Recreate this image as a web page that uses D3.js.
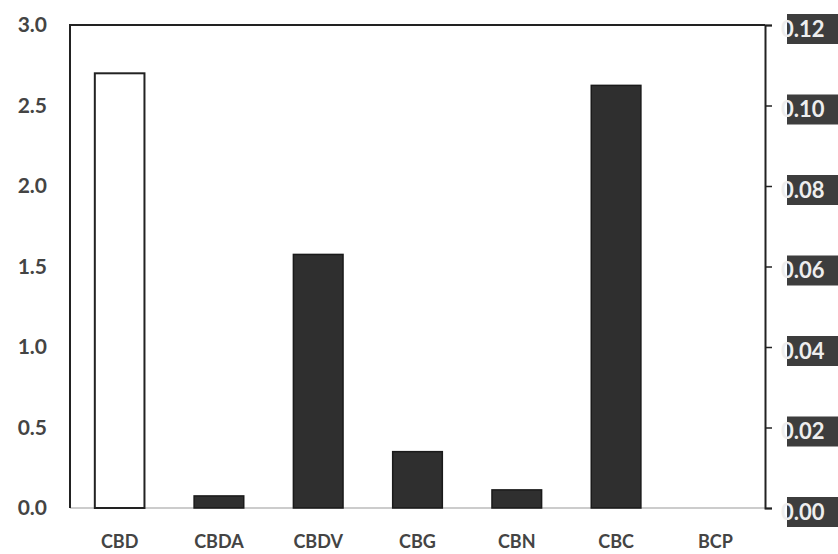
<!DOCTYPE html>
<html>
<head>
<meta charset="utf-8">
<script src="https://cdn.jsdelivr.net/npm/d3@7"></script>
<style>
  body { margin: 0; background: #fff; }
  svg { display: block; }
</style>
</head>
<body>
<script>
'use strict';

// Data
var categories = ["CBD", "CBDA", "CBDV", "CBG", "CBN", "CBC", "BCP"];
var leftValues = [2.70, null, null, null, null, null, null];      // left axis series (CBD)
var rightValues = [null, 0.003, 0.063, 0.014, 0.0045, 0.105, 0]; // right axis series
var leftTicks = [0, 0.5, 1.0, 1.5, 2.0, 2.5, 3.0];
var rightTicks = [0, 0.02, 0.04, 0.06, 0.08, 0.10, 0.12];

(function() {

  var width = 838;
  var height = 554;
  var margin = { top: 25, right: 73, bottom: 46, left: 70 };

  var svg = d3.select("body")
      .append("svg")
      .attr("width", width)
      .attr("height", height);

  var x = d3.scaleBand()
      .domain(categories)
      .range([margin.left, width - margin.right])
      .paddingInner(0.5)
      .paddingOuter(0.25);

  var yLeft = d3.scaleLinear()
      .domain([0, 3])
      .range([height - margin.bottom, margin.top]);

  var yRight = d3.scaleLinear()
      .domain([0, 0.12])
      .range([height - margin.bottom, margin.top]);

  var x0 = margin.left, x1 = width - margin.right;
  var y0 = height - margin.bottom, y1 = margin.top;

  // baseline
  svg.append("line")
      .attr("x1", x0).attr("x2", x1)
      .attr("y1", y0).attr("y2", y0)
      .attr("stroke", "#bbb")
      .attr("stroke-width", 1.5);

  // frame left + top
  svg.append("path")
      .attr("d", "M" + x0 + "," + y0 + "V" + y1 + "H" + x1)
      .attr("fill", "none")
      .attr("stroke", "#222")
      .attr("stroke-width", 2);

  // left tick labels
  svg.selectAll(".ltick")
      .data(leftTicks)
      .enter()
      .append("text")
      .attr("class", "ltick")
      .attr("x", 47)
      .attr("y", function(d) { return yLeft(d); })
      .attr("dy", "0.35em")
      .attr("text-anchor", "end")
      .attr("font-family", "Lato, 'Open Sans', sans-serif")
      .attr("font-weight", "bold")
      .attr("font-size", 21)
      .attr("fill", "#444")
      .text(function(d) { return d3.format(".1f")(d); });

  // right axis
  var rightAxis = d3.axisRight(yRight)
      .tickValues(rightTicks)
      .tickSize(7)
      .tickFormat("");
  var ra = svg.append("g")
      .attr("transform", "translate(" + x1 + ",0)")
      .call(rightAxis);
  ra.select(".domain").attr("stroke", "#222").attr("stroke-width", 2);
  ra.selectAll(".tick line").attr("stroke", "#222").attr("stroke-width", 1.5);

  // right tick labels on dark boxes
  var rl = svg.selectAll(".rlabel")
      .data(rightTicks)
      .enter()
      .append("g")
      .attr("class", "rlabel")
      .attr("transform", function(d) { return "translate(0," + (yRight(d) + 4) + ")"; });
  rl.append("rect")
      .attr("x", 787)
      .attr("y", -15)
      .attr("width", 60)
      .attr("height", 30)
      .attr("fill", "#3d3d3d");
  rl.append("text")
      .attr("x", 781)
      .attr("dy", "0.36em")
      .attr("font-family", "Lato, 'Open Sans', sans-serif")
      .attr("font-weight", "bold")
      .attr("font-size", 22)
      .attr("fill", "#eee")
      .text(function(d) { return d3.format(".2f")(d); });

  // bars on left axis
  svg.selectAll(".barL")
      .data(categories.map(function(c, i) { return { c: c, v: leftValues[i] }; })
        .filter(function(d) { return d.v !== null; }))
      .enter()
      .append("rect")
      .attr("class", "barL")
      .attr("x", function(d) { return x(d.c); })
      .attr("width", x.bandwidth())
      .attr("y", function(d) { return yLeft(d.v); })
      .attr("height", function(d) { return y0 - yLeft(d.v); })
      .attr("fill", "#fff")
      .attr("stroke", "#222")
      .attr("stroke-width", 2);

  // bars on right axis
  svg.selectAll(".barR")
      .data(categories.map(function(c, i) { return { c: c, v: rightValues[i] }; })
        .filter(function(d) { return d.v !== null && d.v > 0; }))
      .enter()
      .append("rect")
      .attr("class", "barR")
      .attr("x", function(d) { return x(d.c); })
      .attr("width", x.bandwidth())
      .attr("y", function(d) { return yRight(d.v); })
      .attr("height", function(d) { return y0 - yRight(d.v); })
      .attr("fill", "#2f2f2f")
      .attr("stroke", "#1a1a1a")
      .attr("stroke-width", 1.5);

  // category labels
  svg.selectAll(".cat")
      .data(categories)
      .enter()
      .append("text")
      .attr("class", "cat")
      .attr("x", function(d) { return x(d) + x.bandwidth() / 2; })
      .attr("y", 542)
      .attr("dy", "0.35em")
      .attr("text-anchor", "middle")
      .attr("font-family", "Lato, 'Open Sans', sans-serif")
      .attr("font-weight", "bold")
      .attr("font-size", 18)
      .attr("fill", "#444")
      .text(function(d) { return d; });

})();
</script>
</body>
</html>
